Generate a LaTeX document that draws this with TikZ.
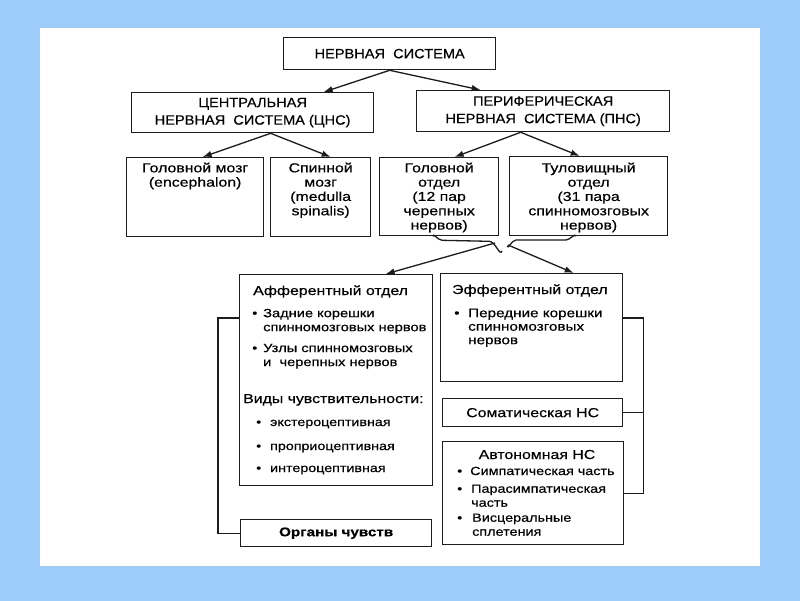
\documentclass[tikz,border=0pt]{standalone}
\usepackage{fontspec}
\setmainfont{Liberation Sans}[FakeStretch=1.22,FakeBold=0.45]
\newfontfamily\capsfont{Liberation Sans}[FakeStretch=1.08,FakeBold=0.4]
\usetikzlibrary{arrows.meta,calc}
\definecolor{bgblue}{RGB}{158,204,250}
\definecolor{bgmid}{RGB}{236,246,255}
\definecolor{ink}{RGB}{28,28,28}
\begin{document}
\begin{tikzpicture}[x=1pt,y=-1pt,
  box/.style={draw=ink, line width=1.3pt, inner sep=0pt, anchor=north west},
  ln/.style={draw=ink, line width=1.3pt},
  arr/.style={ln, -{Latex[length=9pt,width=6.5pt]}},
  capt/.style={font=\capsfont\fontsize{13.5}{17.5}\selectfont, align=center},
  main/.style={font=\fontsize{13}{14.3}\selectfont, inner sep=0pt},
  blt/.style={font=\fontsize{12}{14}\selectfont, inner sep=0pt, align=left},
  eblt/.style={font=\fontsize{12.5}{13.5}\selectfont, inner sep=0pt, align=left},
  sblt/.style={font=\fontsize{11.7}{14}\selectfont, inner sep=0pt},
  ablt/.style={font=\fontsize{11.8}{14}\selectfont, inner sep=0pt, align=left}
]
\useasboundingbox (0,0) rectangle (800,600);
\shade[top color=bgblue, middle color=bgmid, bottom color=bgblue] (0,0) rectangle (800,600);
\fill[white] (40,28) rectangle (760,566);

% level 1
\node[box, minimum width=212pt, minimum height=32pt, capt] (ns) at (283,37) {НЕРВНАЯ\ \ СИСТЕМА};
% level 2
\node[box, minimum width=242pt, minimum height=40pt, capt] (cns) at (131,92) {ЦЕНТРАЛЬНАЯ\\НЕРВНАЯ\ \ СИСТЕМА (ЦНС)};
\node[box, minimum width=253pt, minimum height=41pt, capt] (pns) at (416,90) {ПЕРИФЕРИЧЕСКАЯ\\НЕРВНАЯ\ \ СИСТЕМА (ПНС)};
% level 3
\node[box, minimum width=137pt, minimum height=79pt] (gm) at (126,157) {};
\node[box, minimum width=100pt, minimum height=79pt] (sm) at (270,157) {};
\node[box, minimum width=119pt, minimum height=78pt] (go) at (379,157) {};
\node[box, minimum width=158pt, minimum height=79pt] (to) at (509,156) {};
\node[main, align=center, anchor=north] (gmt) at ($(gm.north)+(0,5.5)$) {Головной мозг\\(encephalon)};
\node[main, align=center, anchor=north] (smt) at ($(sm.north)+(0,5.5)$) {Спинной\\мозг\\(medulla\\spinalis)};
\node[main, align=center, anchor=north] (got) at ($(go.north)+(0,5.5)$) {Головной\\отдел\\(12 пар\\черепных\\нервов)};
\node[main, align=center, anchor=north] (tot) at ($(to.north)+(0,6.5)$) {Туловищный\\отдел\\(31 пара\\спинномозговых\\нервов)};

% arrows top
\draw[arr] (ns.south) -- ($(cns.north)+(71,0)$);
\draw[arr] (ns.south) -- ($(pns.north)+(-62.5,0)$);
\draw[arr] ($(cns.south)+(18,0)$) -- ($(gm.north)+(7.5,0)$);
\draw[arr] ($(cns.south)+(18,0)$) -- ($(sm.north)+(10,0)$);
\draw[arr] ($(pns.south)+(-22.5,0)$) -- ($(go.north)+(15.5,0)$);
\draw[arr] ($(pns.south)+(-22.5,0)$) -- ($(to.north)+(-9,0)$);

% brace
\coordinate (bt) at (502,251);
\coordinate (bl) at (495,243);
\coordinate (br) at (508,245);
\draw[ln] ($(go.south)+(-6.5,0)$) to[out=90,in=180] ($(go.south)+(3,4)$) -- ($(go.south)+(50,5)$) to[out=0,in=-110] (bt);
\draw[ln] (507,246) to[out=-80,in=180] (516,240) -- (566,240) to[out=0,in=90] ($(to.south)+(-13,0)$);

% lower boxes
\node[box, minimum width=193pt, minimum height=211pt] (aff) at (239,274) {};
\node[box, minimum width=182pt, minimum height=108pt] (eff) at (440,273) {};
\node[box, minimum width=180pt, minimum height=28pt, font=\fontsize{13}{14}\selectfont] (som) at (442,398) {Соматическая НС};
\node[box, minimum width=181pt, minimum height=103pt] (aut) at (442,441) {};
\node[box, minimum width=191pt, minimum height=27pt, font=\bfseries\fontsize{12.5}{14}\selectfont] (org) at (240,519) {Органы чувств};

\draw[arr] (bl) -- ($(aff.north)+(49.5,0)$);
\draw[arr] (br) -- ($(eff.north)+(42,0)$);

% afferent content
\node[main, anchor=base west] (afh) at (253,295) {Афферентный отдел};
\node[blt, anchor=north west] (af1) at (252,308.6) {\makebox[11pt][l]{•}Задние корешки\\\hspace*{11pt}спинномозговых нервов};
\node[blt, anchor=north west] (af2) at (252,343.6) {\makebox[11pt][l]{•}Узлы спинномозговых\\\hspace*{11pt}и\ \ черепных нервов};
\node[main, anchor=base west] (vid) at (243,403) {Виды чувствительности:};
\node[sblt, anchor=base west] (s1) at (256,426) {\makebox[14pt][l]{•}экстероцептивная};
\node[sblt, anchor=base west] (s2) at (256,450) {\makebox[14pt][l]{•}проприоцептивная};
\node[sblt, anchor=base west] (s3) at (256,472) {\makebox[14pt][l]{•}интероцептивная};

% efferent content
\node[main, anchor=base west] (efh) at (452,294) {Эфферентный отдел};
\node[eblt, anchor=north west] (ef1) at (454,308.4) {\makebox[14pt][l]{•}Передние корешки\\\hspace*{14pt}спинномозговых\\\hspace*{14pt}нервов};

% autonomous content
\node[main, anchor=base] (auh) at (537,459) {Автономная НС};
\node[ablt, anchor=base west] (au1) at (457,475) {\makebox[13pt][l]{•}Симпатическая часть};
\node[ablt, anchor=north west] (au2) at (457,484.4) {\makebox[14pt][l]{•}Парасимпатическая\\\hspace*{14pt}часть};
\node[ablt, anchor=north west] (au3) at (457,513.4) {\makebox[15pt][l]{•}Висцеральные\\\hspace*{15pt}сплетения};

% brackets
\draw[ln] ($(aff.north west)+(0,44)$) -| ($(org.west)+(-22,0)$) -- (org.west);
\draw[ln] ($(eff.north east)+(0,45)$) -| ($(aut.east)+(19,0)$) -- (aut.east);
\draw[ln] (som.east) -- ($(som.east)+(20,0)$);
\end{tikzpicture}
\end{document}
